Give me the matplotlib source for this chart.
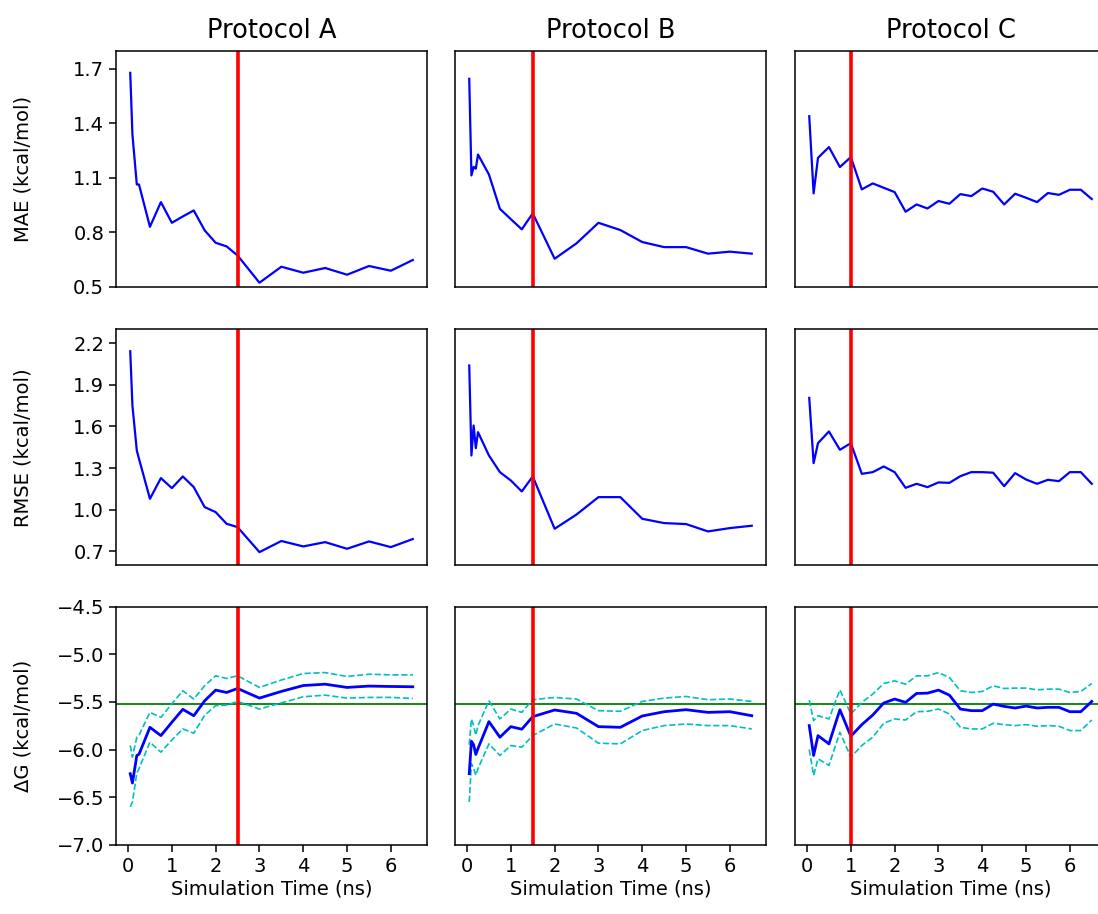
import matplotlib
matplotlib.use("Agg")
import matplotlib.pyplot as plt

# ---------------- data ----------------
protocols = ["Protocol A", "Protocol B", "Protocol C"]
cutoffs = [2.5, 1.5, 1.0]
dg_reference = -5.52

time_a = [0.05, 0.1, 0.2, 0.25, 0.5, 0.75, 1.0, 1.25, 1.5, 1.75, 2.0, 2.25, 2.5,
          3.0, 3.5, 4.0, 4.5, 5.0, 5.5, 6.0, 6.5]
mae_a = [1.678, 1.339, 1.063, 1.063, 0.830, 0.966, 0.852, 0.887, 0.920, 0.810, 0.742,
         0.722, 0.672, 0.522, 0.610, 0.577, 0.603, 0.566, 0.614, 0.588, 0.647]
rmse_a = [2.142, 1.751, 1.427, 1.367, 1.079, 1.228, 1.156, 1.240, 1.163, 1.019, 0.983,
          0.899, 0.875, 0.695, 0.775, 0.736, 0.767, 0.719, 0.772, 0.731, 0.789]
dg_a = [-6.254, -6.352, -6.063, -6.050, -5.767, -5.854, -5.714, -5.578, -5.645, -5.488,
        -5.376, -5.401, -5.359, -5.460, -5.390, -5.328, -5.314, -5.348, -5.334, -5.338, -5.341]
dg_hi_a = [-5.958, -6.080, -5.870, -5.850, -5.610, -5.662, -5.520, -5.383, -5.470, -5.330,
           -5.226, -5.254, -5.226, -5.348, -5.270, -5.202, -5.192, -5.233, -5.209, -5.216, -5.216]
dg_lo_a = [-6.603, -6.550, -6.250, -6.200, -5.923, -6.028, -5.900, -5.784, -5.829, -5.640,
           -5.540, -5.533, -5.495, -5.575, -5.510, -5.446, -5.429, -5.460, -5.453, -5.453, -5.463]

time_b = [0.05, 0.1, 0.15, 0.2, 0.25, 0.5, 0.75, 1.0, 1.25, 1.5, 2.0, 2.5, 3.0, 3.5,
          4.0, 4.5, 5.0, 5.5, 6.0, 6.5]
mae_b = [1.645, 1.113, 1.160, 1.150, 1.228, 1.118, 0.929, 0.872, 0.816, 0.904, 0.654,
         0.739, 0.852, 0.812, 0.746, 0.718, 0.718, 0.682, 0.693, 0.682]
rmse_b = [2.039, 1.391, 1.607, 1.444, 1.559, 1.391, 1.271, 1.211, 1.132, 1.240, 0.863,
          0.966, 1.091, 1.091, 0.935, 0.904, 0.897, 0.844, 0.868, 0.885]
dg_b = [-6.254, -5.913, -5.950, -6.052, -5.990, -5.707, -5.871, -5.760, -5.787, -5.655,
        -5.585, -5.620, -5.760, -5.767, -5.648, -5.603, -5.582, -5.610, -5.603, -5.645]
dg_hi_b = [-5.950, -5.680, -5.750, -5.850, -5.750, -5.488, -5.679, -5.575, -5.610, -5.477,
           -5.453, -5.470, -5.592, -5.599, -5.495, -5.460, -5.443, -5.477, -5.470, -5.495]
dg_lo_b = [-6.551, -6.150, -6.200, -6.272, -6.200, -5.941, -6.063, -5.958, -5.976, -5.854,
           -5.732, -5.774, -5.934, -5.941, -5.801, -5.749, -5.732, -5.749, -5.749, -5.784]

time_c = [0.05, 0.15, 0.25, 0.5, 0.75, 1.0, 1.25, 1.5, 1.75, 2.0, 2.25, 2.5, 2.75, 3.0,
          3.25, 3.5, 3.75, 4.0, 4.25, 4.5, 4.75, 5.0, 5.25, 5.5, 5.75, 6.0, 6.25, 6.5]
mae_c = [1.439, 1.014, 1.210, 1.269, 1.159, 1.214, 1.036, 1.069, 1.045, 1.021, 0.913,
         0.953, 0.931, 0.972, 0.957, 1.010, 0.999, 1.041, 1.023, 0.953, 1.012, 0.990,
         0.966, 1.016, 1.006, 1.034, 1.034, 0.983]
rmse_c = [1.806, 1.336, 1.480, 1.564, 1.432, 1.480, 1.259, 1.271, 1.312, 1.271, 1.158,
          1.187, 1.163, 1.197, 1.194, 1.242, 1.271, 1.271, 1.267, 1.170, 1.264, 1.218,
          1.187, 1.216, 1.206, 1.271, 1.271, 1.187]
dg_c = [-5.749, -6.063, -5.854, -5.941, -5.582, -5.861, -5.739, -5.638, -5.512, -5.470,
        -5.505, -5.411, -5.408, -5.376, -5.429, -5.575, -5.592, -5.592, -5.523, -5.547,
        -5.564, -5.544, -5.564, -5.557, -5.557, -5.603, -5.603, -5.495]
dg_hi_c = [-5.481, -5.697, -5.645, -5.679, -5.373, -5.627, -5.505, -5.418, -5.307, -5.279,
           -5.314, -5.226, -5.226, -5.192, -5.244, -5.383, -5.401, -5.390, -5.331, -5.359,
           -5.355, -5.355, -5.373, -5.366, -5.366, -5.401, -5.390, -5.307]
dg_lo_c = [-6.000, -6.272, -6.098, -6.167, -5.819, -6.080, -5.958, -5.871, -5.725, -5.679,
           -5.690, -5.603, -5.599, -5.575, -5.627, -5.767, -5.784, -5.784, -5.725, -5.739,
           -5.749, -5.739, -5.756, -5.749, -5.756, -5.801, -5.801, -5.690]

row_labels = ["MAE (kcal/mol)", "RMSE (kcal/mol)", "ΔG (kcal/mol)"]
mae_ticks = [0.5, 0.8, 1.1, 1.4, 1.7]
rmse_ticks = [0.7, 1.0, 1.3, 1.6, 1.9, 2.2]
dg_ticks = [-7.0, -6.5, -6.0, -5.5, -5.0, -4.5]
x_ticks = [0, 1, 2, 3, 4, 5, 6]

# ---------------- figure ----------------
W, H = 1098, 914
fig = plt.figure(figsize=(W / 100, H / 100), dpi=100)

col_left = [116, 455, 795]
col_w = 311
row_top = [50.7, 329.3, 606.7]
row_h = [236, 236, 238]

times = [time_a, time_b, time_c]
maes = [mae_a, mae_b, mae_c]
rmses = [rmse_a, rmse_b, rmse_c]
dgs = [dg_a, dg_b, dg_c]
dg_his = [dg_hi_a, dg_hi_b, dg_hi_c]
dg_los = [dg_lo_a, dg_lo_b, dg_lo_c]

ylims = [(0.5, 1.8), (0.6, 2.3), (-7.0, -4.5)]
yticks = [mae_ticks, rmse_ticks, dg_ticks]

FS = 14
for r in range(3):
    for c in range(3):
        ax = fig.add_axes([col_left[c] / W, 1 - (row_top[r] + row_h[r]) / H,
                           col_w / W, row_h[r] / H])
        t = times[c]
        if r == 0:
            ax.plot(t, maes[c], color="b", lw=1.6)
        elif r == 1:
            ax.plot(t, rmses[c], color="b", lw=1.6)
        else:
            ax.axhline(dg_reference, color="g", lw=1.3)
            ax.plot(t, dg_his[c], color="c", ls="--", lw=1.2)
            ax.plot(t, dg_los[c], color="c", ls="--", lw=1.2)
            ax.plot(t, dgs[c], color="b", lw=2.0)
        ax.axvline(cutoffs[c], color="r", lw=2.6)
        ax.set_xlim(-0.275, 6.825)
        ax.set_ylim(*ylims[r])
        ax.set_yticks(yticks[r])
        ax.set_xticks(x_ticks)
        ax.tick_params(labelsize=FS, length=5, width=1.1)
        for s in ax.spines.values():
            s.set_linewidth(1.1)
        if r < 2:
            ax.tick_params(bottom=False, labelbottom=False)
        else:
            ax.set_xlabel("Simulation Time (ns)", fontsize=FS, labelpad=3)
        if c > 0:
            ax.tick_params(left=False, labelleft=False)
        else:
            ax.set_ylabel(row_labels[r], fontsize=FS)
            ax.yaxis.set_label_coords(-0.27, 0.5)
        if r == 0:
            ax.set_title(protocols[c], fontsize=18.5, pad=9)

fig.savefig("out.png", dpi=100)
